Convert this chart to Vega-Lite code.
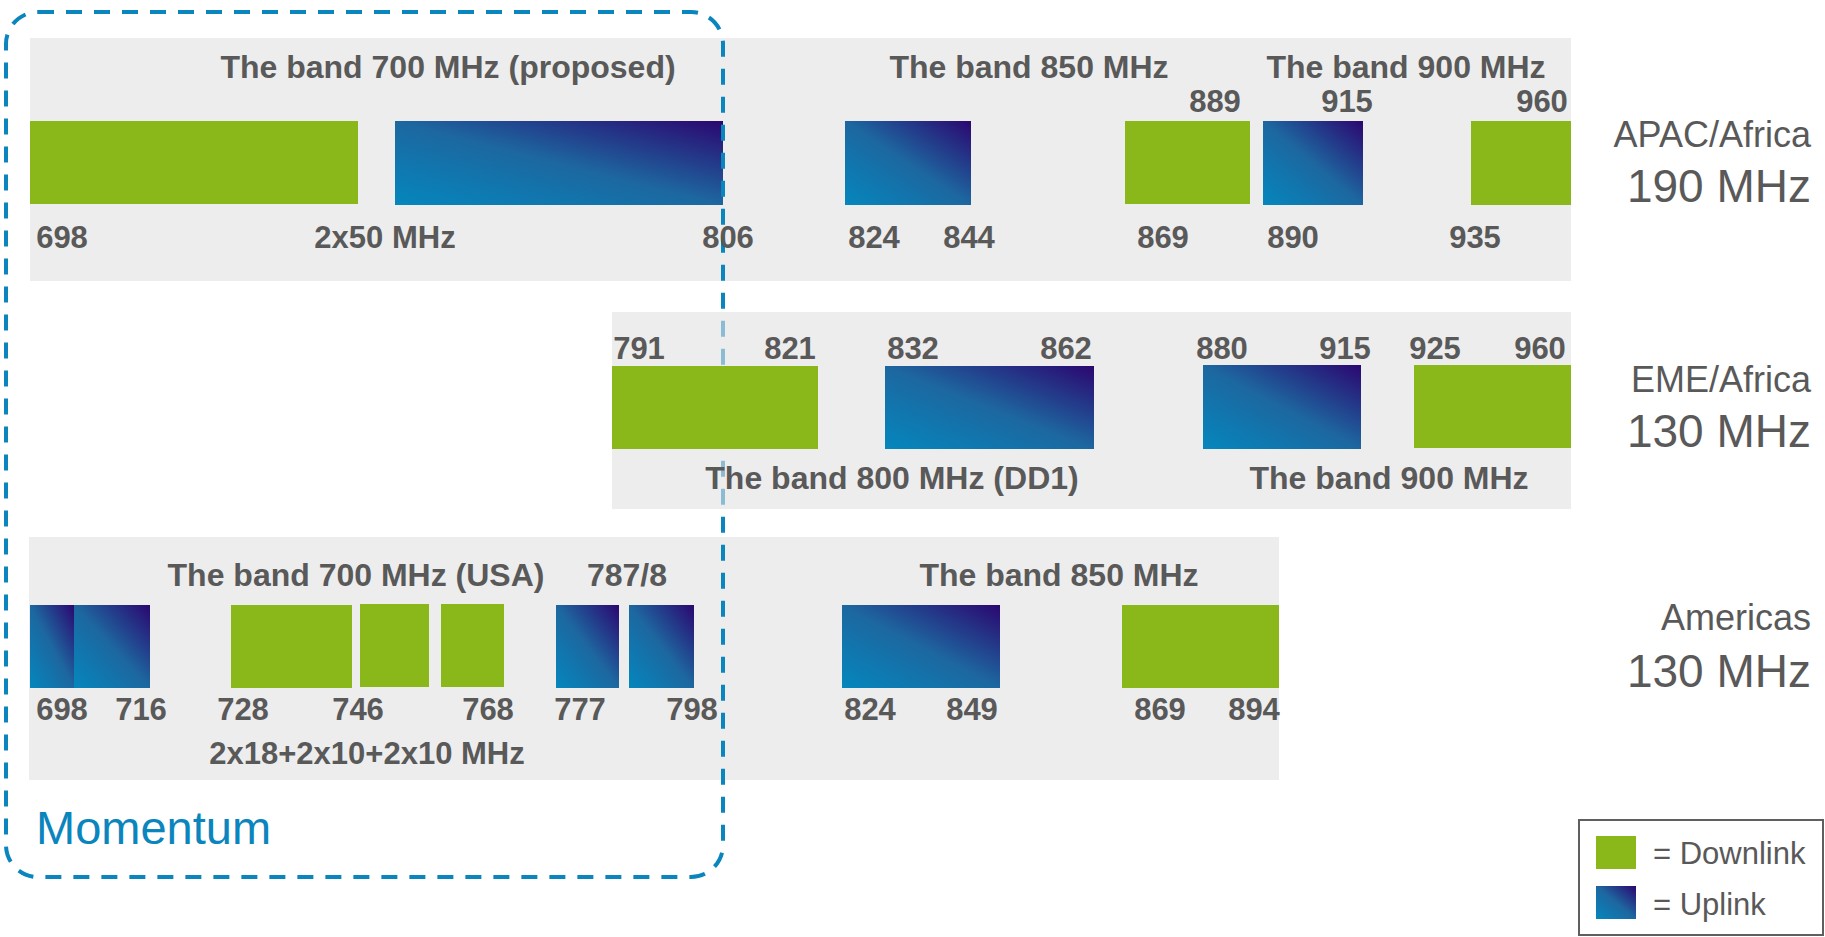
{
  "$schema": "https://vega.github.io/schema/vega-lite/v6.json",
  "width": 1825,
  "height": 937,
  "autosize": {"type": "fit", "contains": "padding"},
  "padding": 0,
  "background": "white",
  "config": {"view": {"stroke": null}},
  "datasets": {
    "bands": [
      {"region": "APAC/Africa", "start": 30, "end": 1571, "top": 38, "bottom": 281},
      {"region": "EME/Africa", "start": 612, "end": 1571, "top": 312, "bottom": 509},
      {"region": "Americas", "start": 29, "end": 1279, "top": 537, "bottom": 780}
    ],
    "blocks": [
      {"region": "APAC/Africa", "link": "Downlink", "from": "698", "start": 30, "end": 358, "top": 121, "bottom": 204},
      {"region": "APAC/Africa", "link": "Uplink", "from": "758", "start": 395, "end": 723, "top": 121, "bottom": 205},
      {"region": "APAC/Africa", "link": "Uplink", "from": "824", "start": 845, "end": 971, "top": 121, "bottom": 205},
      {"region": "APAC/Africa", "link": "Downlink", "from": "869", "start": 1125, "end": 1250, "top": 121, "bottom": 204},
      {"region": "APAC/Africa", "link": "Uplink", "from": "890", "start": 1263, "end": 1363, "top": 121, "bottom": 205},
      {"region": "APAC/Africa", "link": "Downlink", "from": "935", "start": 1471, "end": 1571, "top": 121, "bottom": 205},
      {"region": "EME/Africa", "link": "Downlink", "from": "791", "start": 612, "end": 818, "top": 366, "bottom": 449},
      {"region": "EME/Africa", "link": "Uplink", "from": "832", "start": 885, "end": 1094, "top": 366, "bottom": 449},
      {"region": "EME/Africa", "link": "Uplink", "from": "880", "start": 1203, "end": 1361, "top": 365, "bottom": 449},
      {"region": "EME/Africa", "link": "Downlink", "from": "925", "start": 1414, "end": 1571, "top": 365, "bottom": 448},
      {"region": "Americas", "link": "Uplink", "from": "698", "start": 30, "end": 74, "top": 605, "bottom": 688},
      {"region": "Americas", "link": "Uplink", "from": "704", "start": 74, "end": 150, "top": 605, "bottom": 688},
      {"region": "Americas", "link": "Downlink", "from": "728", "start": 231, "end": 352, "top": 605, "bottom": 688},
      {"region": "Americas", "link": "Downlink", "from": "746", "start": 360, "end": 429, "top": 604, "bottom": 687},
      {"region": "Americas", "link": "Downlink", "from": "758", "start": 441, "end": 504, "top": 604, "bottom": 687},
      {"region": "Americas", "link": "Uplink", "from": "777", "start": 556, "end": 619, "top": 605, "bottom": 688},
      {"region": "Americas", "link": "Uplink", "from": "788", "start": 629, "end": 694, "top": 605, "bottom": 688},
      {"region": "Americas", "link": "Uplink", "from": "824", "start": 842, "end": 1000, "top": 605, "bottom": 688},
      {"region": "Americas", "link": "Downlink", "from": "869", "start": 1122, "end": 1279, "top": 605, "bottom": 688},
      {"region": "Legend", "link": "Downlink", "from": "", "start": 1596, "end": 1636, "top": 836, "bottom": 869},
      {"region": "Legend", "link": "Uplink", "from": "", "start": 1596, "end": 1636, "top": 886, "bottom": 919}
    ],
    "frames": [
      {"name": "Momentum", "start": 6, "end": 723, "top": 12, "bottom": 877}
    ],
    "legendBox": [
      {"name": "legend", "start": 1579, "end": 1823, "top": 820, "bottom": 935}
    ],
    "labels": [
      {"kind": "title", "text": "The band 700 MHz (proposed)", "x": 448, "y": 66},
      {"kind": "title", "text": "The band 850 MHz", "x": 1029, "y": 66},
      {"kind": "title", "text": "The band 900 MHz", "x": 1406, "y": 66},
      {"kind": "title", "text": "The band 800 MHz (DD1)", "x": 892, "y": 477},
      {"kind": "title", "text": "The band 900 MHz", "x": 1389, "y": 477},
      {"kind": "title", "text": "The band 700 MHz (USA)", "x": 356, "y": 574},
      {"kind": "title", "text": "787/8", "x": 627, "y": 574},
      {"kind": "title", "text": "The band 850 MHz", "x": 1059, "y": 574},
      {"kind": "number", "text": "889", "x": 1215, "y": 101},
      {"kind": "number", "text": "915", "x": 1347, "y": 101},
      {"kind": "number", "text": "960", "x": 1542, "y": 101},
      {"kind": "number", "text": "698", "x": 62, "y": 237},
      {"kind": "number", "text": "2x50 MHz", "x": 385, "y": 237},
      {"kind": "number", "text": "806", "x": 728, "y": 237},
      {"kind": "number", "text": "824", "x": 874, "y": 237},
      {"kind": "number", "text": "844", "x": 969, "y": 237},
      {"kind": "number", "text": "869", "x": 1163, "y": 237},
      {"kind": "number", "text": "890", "x": 1293, "y": 237},
      {"kind": "number", "text": "935", "x": 1475, "y": 237},
      {"kind": "number", "text": "791", "x": 639, "y": 348},
      {"kind": "number", "text": "821", "x": 790, "y": 348},
      {"kind": "number", "text": "832", "x": 913, "y": 348},
      {"kind": "number", "text": "862", "x": 1066, "y": 348},
      {"kind": "number", "text": "880", "x": 1222, "y": 348},
      {"kind": "number", "text": "915", "x": 1345, "y": 348},
      {"kind": "number", "text": "925", "x": 1435, "y": 348},
      {"kind": "number", "text": "960", "x": 1540, "y": 348},
      {"kind": "number", "text": "698", "x": 62, "y": 709},
      {"kind": "number", "text": "716", "x": 141, "y": 709},
      {"kind": "number", "text": "728", "x": 243, "y": 709},
      {"kind": "number", "text": "746", "x": 358, "y": 709},
      {"kind": "number", "text": "768", "x": 488, "y": 709},
      {"kind": "number", "text": "777", "x": 580, "y": 709},
      {"kind": "number", "text": "798", "x": 692, "y": 709},
      {"kind": "number", "text": "824", "x": 870, "y": 709},
      {"kind": "number", "text": "849", "x": 972, "y": 709},
      {"kind": "number", "text": "869", "x": 1160, "y": 709},
      {"kind": "number", "text": "894", "x": 1254, "y": 709},
      {"kind": "number", "text": "2x18+2x10+2x10 MHz", "x": 367, "y": 753},
      {"kind": "region", "text": "APAC/Africa", "x": 1811, "y": 134},
      {"kind": "total", "text": "190 MHz", "x": 1811, "y": 185},
      {"kind": "region", "text": "EME/Africa", "x": 1811, "y": 379},
      {"kind": "total", "text": "130 MHz", "x": 1811, "y": 430},
      {"kind": "region", "text": "Americas", "x": 1811, "y": 617},
      {"kind": "total", "text": "130 MHz", "x": 1811, "y": 670},
      {"kind": "momentum", "text": "Momentum", "x": 36, "y": 827},
      {"kind": "legend", "text": "= Downlink", "x": 1653, "y": 853},
      {"kind": "legend", "text": "= Uplink", "x": 1653, "y": 904}
    ]
  },
  "layer": [
    {
      "data": {"name": "bands"},
      "transform": [{"filter": "datum.region !== 'EME/Africa'"}],
      "mark": {"type": "rect", "fill": "#ededed"},
      "encoding": {
        "x": {"field": "start", "type": "quantitative", "scale": {"domain": [0, 1825], "nice": false, "zero": false}, "axis": null},
        "x2": {"field": "end"},
        "y": {"field": "top", "type": "quantitative", "scale": {"domain": [0, 937], "nice": false, "zero": false, "reverse": true}, "axis": null},
        "y2": {"field": "bottom"}
      }
    },
    {
      "data": {"name": "blocks"},
      "transform": [{"filter": "datum.link === 'Downlink' && datum.region !== 'EME/Africa'"}],
      "mark": {"type": "rect", "fill": "#8ab81b"},
      "encoding": {
        "x": {"field": "start", "type": "quantitative", "axis": null},
        "x2": {"field": "end"},
        "y": {"field": "top", "type": "quantitative", "axis": null},
        "y2": {"field": "bottom"}
      }
    },
    {
      "data": {"name": "blocks"},
      "transform": [{"filter": "datum.link === 'Uplink' && datum.region !== 'EME/Africa'"}],
      "mark": {"type": "rect", "fill": {"gradient": "linear", "x1": 0, "y1": 1, "x2": 1, "y2": 0, "stops": [{"offset": 0, "color": "#0487bd"}, {"offset": 0.5, "color": "#1d67a0"}, {"offset": 1, "color": "#2b0770"}]}},
      "encoding": {
        "x": {"field": "start", "type": "quantitative", "axis": null},
        "x2": {"field": "end"},
        "y": {"field": "top", "type": "quantitative", "axis": null},
        "y2": {"field": "bottom"}
      }
    },
    {
      "data": {"name": "frames"},
      "mark": {"type": "rect", "fill": null, "filled": false, "stroke": "#0a85bd", "strokeWidth": 4, "strokeDash": [16, 12], "cornerRadius": 32},
      "encoding": {
        "x": {"field": "start", "type": "quantitative", "axis": null},
        "x2": {"field": "end"},
        "y": {"field": "top", "type": "quantitative", "axis": null},
        "y2": {"field": "bottom"}
      }
    },
    {
      "data": {"name": "bands"},
      "transform": [{"filter": "datum.region === 'EME/Africa'"}],
      "mark": {"type": "rect", "fill": "#e1e1e1", "fillOpacity": 0.6},
      "encoding": {
        "x": {"field": "start", "type": "quantitative", "axis": null},
        "x2": {"field": "end"},
        "y": {"field": "top", "type": "quantitative", "axis": null},
        "y2": {"field": "bottom"}
      }
    },
    {
      "data": {"name": "blocks"},
      "transform": [{"filter": "datum.link === 'Downlink' && datum.region === 'EME/Africa'"}],
      "mark": {"type": "rect", "fill": "#8ab81b"},
      "encoding": {
        "x": {"field": "start", "type": "quantitative", "axis": null},
        "x2": {"field": "end"},
        "y": {"field": "top", "type": "quantitative", "axis": null},
        "y2": {"field": "bottom"}
      }
    },
    {
      "data": {"name": "blocks"},
      "transform": [{"filter": "datum.link === 'Uplink' && datum.region === 'EME/Africa'"}],
      "mark": {"type": "rect", "fill": {"gradient": "linear", "x1": 0, "y1": 1, "x2": 1, "y2": 0, "stops": [{"offset": 0, "color": "#0487bd"}, {"offset": 0.5, "color": "#1d67a0"}, {"offset": 1, "color": "#2b0770"}]}},
      "encoding": {
        "x": {"field": "start", "type": "quantitative", "axis": null},
        "x2": {"field": "end"},
        "y": {"field": "top", "type": "quantitative", "axis": null},
        "y2": {"field": "bottom"}
      }
    },
    {
      "data": {"name": "legendBox"},
      "mark": {"type": "rect", "fill": null, "filled": false, "stroke": "#5f5f5f", "strokeWidth": 2},
      "encoding": {
        "x": {"field": "start", "type": "quantitative", "axis": null},
        "x2": {"field": "end"},
        "y": {"field": "top", "type": "quantitative", "axis": null},
        "y2": {"field": "bottom"}
      }
    },
    {
      "data": {"name": "labels"},
      "transform": [{"filter": "datum.kind === 'title'"}],
      "mark": {"type": "text", "font": "Liberation Sans", "fontWeight": "bold", "fontSize": 32, "fill": "#595959", "align": "center", "baseline": "middle", "dy": 2},
      "encoding": {
        "x": {"field": "x", "type": "quantitative", "axis": null},
        "y": {"field": "y", "type": "quantitative", "axis": null},
        "text": {"field": "text"}
      }
    },
    {
      "data": {"name": "labels"},
      "transform": [{"filter": "datum.kind === 'number'"}],
      "mark": {"type": "text", "font": "Liberation Sans", "fontWeight": "bold", "fontSize": 31, "fill": "#595959", "align": "center", "baseline": "middle", "dy": 2},
      "encoding": {
        "x": {"field": "x", "type": "quantitative", "axis": null},
        "y": {"field": "y", "type": "quantitative", "axis": null},
        "text": {"field": "text"}
      }
    },
    {
      "data": {"name": "labels"},
      "transform": [{"filter": "datum.kind === 'region'"}],
      "mark": {"type": "text", "font": "Liberation Sans", "fontSize": 36, "fill": "#595959", "align": "right", "baseline": "middle", "dy": 2},
      "encoding": {
        "x": {"field": "x", "type": "quantitative", "axis": null},
        "y": {"field": "y", "type": "quantitative", "axis": null},
        "text": {"field": "text"}
      }
    },
    {
      "data": {"name": "labels"},
      "transform": [{"filter": "datum.kind === 'total'"}],
      "mark": {"type": "text", "font": "Liberation Sans", "fontSize": 46, "fill": "#595959", "align": "right", "baseline": "middle", "dy": 3},
      "encoding": {
        "x": {"field": "x", "type": "quantitative", "axis": null},
        "y": {"field": "y", "type": "quantitative", "axis": null},
        "text": {"field": "text"}
      }
    },
    {
      "data": {"name": "labels"},
      "transform": [{"filter": "datum.kind === 'momentum'"}],
      "mark": {"type": "text", "font": "Liberation Sans", "fontSize": 47, "fill": "#0a85bd", "align": "left", "baseline": "middle", "dy": 3},
      "encoding": {
        "x": {"field": "x", "type": "quantitative", "axis": null},
        "y": {"field": "y", "type": "quantitative", "axis": null},
        "text": {"field": "text"}
      }
    },
    {
      "data": {"name": "labels"},
      "transform": [{"filter": "datum.kind === 'legend'"}],
      "mark": {"type": "text", "font": "Liberation Sans", "fontSize": 31, "fill": "#595959", "align": "left", "baseline": "middle", "dy": 2},
      "encoding": {
        "x": {"field": "x", "type": "quantitative", "axis": null},
        "y": {"field": "y", "type": "quantitative", "axis": null},
        "text": {"field": "text"}
      }
    }
  ]
}
